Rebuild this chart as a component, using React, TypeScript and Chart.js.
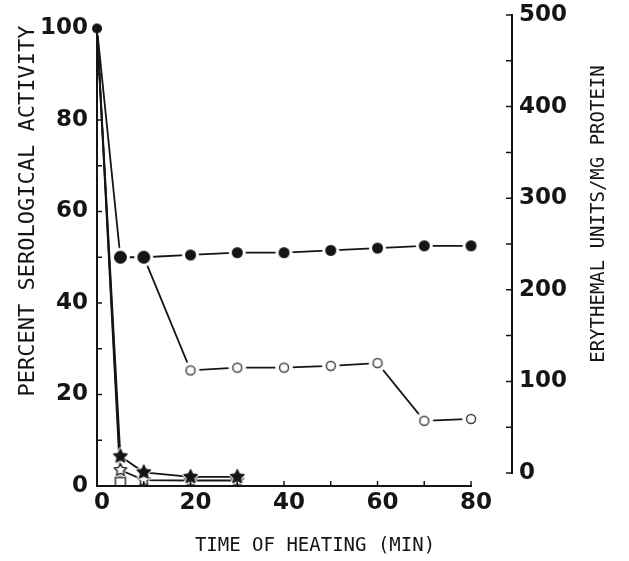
import { useEffect, useRef } from 'react';
import { Chart, registerables } from 'chart.js';

Chart.register(...registerables);

// Heating time (min) and measured activities
const minutes = [0, 5, 10, 20, 30, 40, 50, 60, 70, 80];
const serologicalPct = [100, 50, 50, 50.5, 51, 51, 51.5, 52, 52.5, 52.5];

const erythemalMinutes = [10, 20, 30, 40, 50, 60, 70, 80];
const erythemalUnits = [236, 112, 115, 115, 117, 120, 57, 59];

const starMinutes = [0, 5, 10, 20, 30];
const filledStarPct = [100, 6.5, 3, 2, 2];
const openStarPct = [100, 3.5, 1.3, 1.2, 1.2];

const squareMinutes = [0, 5];
const openSquarePct = [100, 1];

// Axis ticks
const minuteLabels = [0, 20, 40, 60, 80];
const minuteMarks = [10, 20, 30, 40, 50, 60, 70, 80];
const pctLabels = [0, 20, 40, 60, 80, 100];
const pctMarks = [10, 20, 30, 40, 50, 60, 70, 80, 90, 100];
const unitLabels = [0, 100, 200, 300, 400, 500];
const unitMarks = [0, 50, 100, 150, 200, 250, 300, 350, 400, 450, 500];

const INK = '#151515';

type Kind = 'dot' | 'ring' | 'star' | 'openStar' | 'box';

// Marker sprite with a white halo so that lines stop short of the symbol
function marker(kind: Kind, r: number, halo: number): HTMLCanvasElement {
  const size = Math.ceil(2 * (r + halo) + 4);
  const c = document.createElement('canvas');
  c.width = size;
  c.height = size;
  const g = c.getContext('2d') as CanvasRenderingContext2D;
  g.translate(size / 2, size / 2);
  const starPath = () => {
    g.beginPath();
    for (let i = 0; i < 10; i++) {
      const a = -Math.PI / 2 + (i * Math.PI) / 5;
      const rr = i % 2 === 0 ? r : r * 0.5;
      g.lineTo(Math.cos(a) * rr, Math.sin(a) * rr);
    }
    g.closePath();
  };
  if (kind === 'dot' || kind === 'ring') {
    g.fillStyle = '#fff';
    g.beginPath();
    g.arc(0, 0, r + halo, 0, Math.PI * 2);
    g.fill();
    g.beginPath();
    if (kind === 'dot') {
      g.arc(0, 0, r, 0, Math.PI * 2);
      g.fillStyle = INK;
      g.fill();
    } else {
      g.arc(0, 0, r - 0.8, 0, Math.PI * 2);
      g.lineWidth = 1.5;
      g.strokeStyle = '#444';
      g.stroke();
    }
  } else if (kind === 'star' || kind === 'openStar') {
    starPath();
    g.lineJoin = 'round';
    g.lineWidth = halo * 2;
    g.strokeStyle = '#fff';
    g.stroke();
    g.fillStyle = kind === 'star' ? INK : '#fff';
    g.fill();
    g.lineWidth = kind === 'star' ? 1 : 1.4;
    g.strokeStyle = kind === 'star' ? INK : '#222';
    g.stroke();
  } else {
    g.fillStyle = '#fff';
    g.fillRect(-r - halo, -r - halo, 2 * (r + halo), 2 * (r + halo));
    g.beginPath();
    g.moveTo(-r, r);
    g.lineTo(-r, -r * 0.8);
    g.lineTo(r, -r * 0.8);
    g.lineTo(r, r);
    g.lineWidth = 1.4;
    g.strokeStyle = '#222';
    g.stroke();
  }
  return c;
}

const frameAndTitles = {
  id: 'frameAndTitles',
  afterDraw(chart: any) {
    const { ctx, chartArea } = chart;
    const xs = chart.scales.x;
    const yl = chart.scales.y;
    const yr = chart.scales.y2;
    const x0 = xs.getPixelForValue(0);
    const x80 = xs.getPixelForValue(80);
    const yb = yl.getPixelForValue(0);
    const yt = yl.getPixelForValue(100);
    const xr = chartArea.right;

    ctx.save();
    ctx.strokeStyle = INK;
    ctx.lineCap = 'square';
    ctx.lineWidth = 2;
    ctx.beginPath();
    ctx.moveTo(x0, yt);
    ctx.lineTo(x0, yb);
    ctx.lineTo(x80, yb);
    ctx.moveTo(xr, yr.getPixelForValue(0));
    ctx.lineTo(xr, yr.getPixelForValue(500));
    ctx.stroke();

    ctx.lineWidth = 1.5;
    ctx.lineCap = 'butt';
    ctx.beginPath();
    pctMarks.forEach((v) => {
      const p = yl.getPixelForValue(v);
      ctx.moveTo(x0, p);
      ctx.lineTo(x0 + 5, p);
    });
    minuteMarks.forEach((v) => {
      const p = xs.getPixelForValue(v);
      ctx.moveTo(p, yb);
      ctx.lineTo(p, yb - 5);
    });
    unitMarks.forEach((v) => {
      const p = yr.getPixelForValue(v);
      ctx.moveTo(xr, p);
      ctx.lineTo(xr - 6, p);
    });
    ctx.stroke();

    ctx.fillStyle = INK;
    ctx.textAlign = 'center';
    ctx.textBaseline = 'middle';

    ctx.font = '22px "DejaVu Sans Mono"';
    ctx.save();
    ctx.translate(28, 211);
    ctx.rotate(-Math.PI / 2);
    ctx.fillText('PERCENT SEROLOGICAL ACTIVITY', 0, 0);
    ctx.restore();

    ctx.font = '19px "DejaVu Sans Mono"';
    ctx.save();
    ctx.translate(599, 214);
    ctx.rotate(-Math.PI / 2);
    ctx.fillText('ERYTHEMAL UNITS/MG PROTEIN', 0, 0);
    ctx.restore();

    ctx.fillText('TIME OF HEATING (MIN)', 315, 546);
    ctx.restore();
  },
};

// Keep the plot frame fixed: no extra room reserved for half-labels
const noLabelPadding = (axis: any) => {
  axis.paddingTop = 0;
  axis.paddingBottom = 0;
  axis.paddingLeft = 0;
  axis.paddingRight = 0;
};

export default function App() {
  const ref = useRef<HTMLCanvasElement | null>(null);

  useEffect(() => {
    if (!ref.current) return;

    const smallDot = marker('dot', 5, 2);
    const bigDot = marker('dot', 6.5, 3);
    const dot = marker('dot', 5.5, 3);
    const ring = marker('ring', 5.3, 3.5);
    const star = marker('star', 7.5, 1.5);
    const openStar = marker('openStar', 6.5, 1.5);
    const box = marker('box', 5, 1);

    const serStyles = serologicalPct.map((_, i) => (i === 0 ? smallDot : i < 3 ? bigDot : dot));
    const hideFirst = (c: any) => (c.dataIndex === 0 ? 0 : 5);

    const lineBase = {
      borderColor: INK,
      borderWidth: 1.8,
      tension: 0,
      clip: false as const,
      pointBorderWidth: 0,
      pointHoverRadius: 0,
    };

    const labelFont = { family: 'DejaVu Sans', size: 23, weight: 'bold' as const };

    const chart = new Chart(ref.current, {
      type: 'line',
      data: {
        datasets: [
          {
            ...lineBase,
            label: 'Serological activity',
            data: minutes.map((m, i) => ({ x: m, y: serologicalPct[i] })),
            yAxisID: 'y',
            pointStyle: (c: any) => serStyles[c.dataIndex],
            pointRadius: 5,
          },
          {
            ...lineBase,
            label: 'Erythemal units',
            data: erythemalMinutes.map((m, i) => ({ x: m, y: erythemalUnits[i] })),
            yAxisID: 'y2',
            pointStyle: () => ring,
            pointRadius: hideFirst,
          },
          {
            ...lineBase,
            label: 'Filled stars',
            data: starMinutes.map((m, i) => ({ x: m, y: filledStarPct[i] })),
            yAxisID: 'y',
            pointStyle: () => star,
            pointRadius: hideFirst,
          },
          {
            ...lineBase,
            label: 'Open stars',
            data: starMinutes.map((m, i) => ({ x: m, y: openStarPct[i] })),
            yAxisID: 'y',
            pointStyle: () => openStar,
            pointRadius: hideFirst,
          },
          {
            ...lineBase,
            label: 'Open squares',
            data: squareMinutes.map((m, i) => ({ x: m, y: openSquarePct[i] })),
            yAxisID: 'y',
            pointStyle: () => box,
            pointRadius: hideFirst,
          },
        ],
      },
      options: {
        animation: false,
        responsive: true,
        maintainAspectRatio: false,
        events: [],
        layout: { padding: { top: 15, left: 0, right: 0, bottom: 0 } },
        plugins: { legend: { display: false }, tooltip: { enabled: false } },
        scales: {
          x: {
            type: 'linear',
            min: 0,
            max: 88.77,
            grid: { display: false, drawTicks: false },
            border: { display: false },
            afterBuildTicks: (axis: any) => {
              axis.ticks = minuteLabels.map((v) => ({ value: v }));
            },
            afterFit: (axis: any) => {
              axis.height = 75;
              noLabelPadding(axis);
            },
            ticks: {
              autoSkip: false,
              maxRotation: 0,
              padding: 3,
              labelOffset: 5,
              color: INK,
              font: labelFont,
            },
          },
          y: {
            type: 'linear',
            position: 'left',
            min: 0,
            max: 102.95,
            grid: { display: false, drawTicks: false },
            border: { display: false },
            afterBuildTicks: (axis: any) => {
              axis.ticks = pctLabels.map((v) => ({ value: v }));
            },
            afterFit: (axis: any) => {
              axis.width = 97;
              noLabelPadding(axis);
            },
            ticks: { padding: 9, color: INK, font: labelFont },
          },
          y2: {
            type: 'linear',
            position: 'right',
            min: -14.2,
            max: 500,
            grid: { display: false, drawTicks: false },
            border: { display: false },
            afterBuildTicks: (axis: any) => {
              axis.ticks = unitLabels.map((v) => ({ value: v }));
            },
            afterFit: (axis: any) => {
              axis.width = 117;
              noLabelPadding(axis);
            },
            ticks: { padding: 7, color: INK, font: labelFont },
          },
        },
      },
      plugins: [frameAndTitles],
    });

    return () => chart.destroy();
  }, []);

  return (
    <div
      style={{
        position: 'fixed',
        left: 0,
        top: 0,
        width: 629,
        height: 561,
        background: '#fff',
      }}
    >
      <canvas ref={ref} />
    </div>
  );
}
